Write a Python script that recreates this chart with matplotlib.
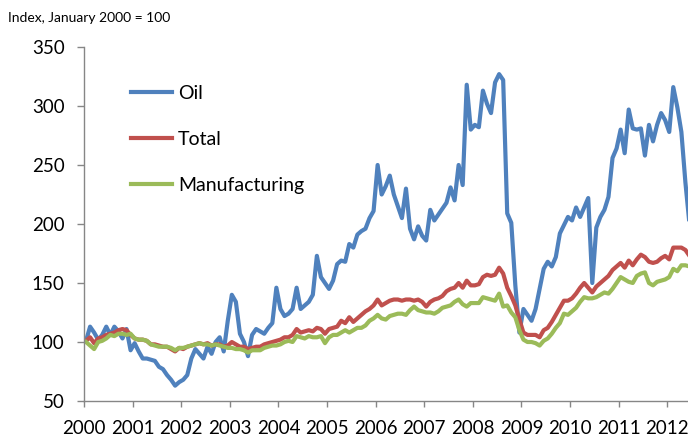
import numpy as np
import matplotlib
matplotlib.use("Agg")
import matplotlib.pyplot as plt

# === Data (monthly index, January 2000 = 100) ===
start_year = 2000

oil = [101, 113, 108, 102, 106, 113, 106, 113, 109, 103, 111, 93,
       99, 92, 86, 86, 85, 84, 79, 77, 72, 68, 63, 66,
       68, 72, 86, 94, 90, 86, 96, 90, 100, 104, 92, 118,
       140, 134, 107, 100, 88, 106, 111, 109, 107, 112, 116, 146,
       128, 122, 124, 128, 146, 128, 131, 134, 140, 173, 155, 150,
       145, 152, 166, 169, 168, 183, 180, 191, 194, 196, 205, 211,
       250, 225, 232, 241, 225, 215, 205, 230, 196, 187, 198, 190,
       186, 212, 203, 208, 213, 218, 231, 220, 250, 233, 318, 280,
       284, 282, 313, 302, 294, 320, 327, 322, 209, 201, 148, 108,
       128, 123, 118, 128, 145, 162, 168, 164, 172, 192, 199, 206,
       203, 214, 206, 214, 222, 150, 197, 206, 212, 223, 256, 264,
       280, 260, 297, 281, 280, 281, 258, 284, 270, 284, 294, 288,
       278, 316, 299, 278, 235, 200]

total = [101, 104, 99, 103, 104, 106, 107, 108, 110, 111, 110, 106,
         103, 102, 102, 101, 98, 98, 97, 96, 96, 94, 92, 95,
         94, 96, 97, 98, 99, 98, 99, 97, 98, 98, 96, 97,
         100, 98, 96, 96, 94, 95, 96, 96, 98, 99, 100, 101,
         102, 104, 104, 106, 111, 108, 109, 110, 109, 112, 111, 107,
         111, 112, 113, 118, 116, 121, 117, 120, 123, 126, 128, 131,
         136, 131, 133, 135, 136, 136, 135, 136, 136, 135, 136, 134,
         130, 134, 136, 137, 139, 143, 145, 146, 150, 146, 152, 148,
         148, 149, 155, 157, 156, 157, 163, 158, 146, 139, 131, 119,
         108, 106, 106, 106, 104, 110, 112, 117, 123, 129, 135, 135,
         137, 141, 146, 150, 146, 142, 147, 150, 153, 156, 161, 164,
         167, 163, 169, 165, 170, 174, 172, 168, 167, 168, 171, 173,
         170, 180, 180, 180, 178, 173]

manufacturing = [100, 97, 94, 100, 101, 103, 106, 105, 107, 107, 106, 107,
                 103, 102, 102, 101, 98, 97, 96, 96, 96, 95, 93, 95,
                 95, 96, 97, 98, 99, 98, 98, 97, 98, 97, 96, 95,
                 95, 94, 94, 93, 91, 93, 93, 93, 95, 96, 97, 97,
                 98, 100, 101, 100, 105, 104, 103, 105, 104, 104, 105, 99,
                 104, 106, 106, 108, 110, 108, 110, 112, 112, 114, 118, 120,
                 123, 120, 119, 122, 123, 124, 124, 123, 127, 130, 127, 126,
                 125, 125, 124, 126, 129, 130, 131, 134, 136, 132, 130, 133,
                 133, 133, 138, 137, 136, 135, 141, 130, 131, 125, 121, 110,
                 102, 100, 100, 99, 97, 101, 103, 107, 112, 116, 124, 123,
                 126, 129, 134, 138, 137, 137, 138, 140, 142, 141, 145, 150,
                 155, 153, 151, 150, 156, 158, 159, 150, 148, 151, 152, 153,
                 155, 162, 160, 165, 165, 164]

labels = ["Oil", "Total", "Manufacturing"]
colors = ["#4F81BD", "#C0504D", "#9BBB59"]
year_ticks = list(range(2000, 2013))
y_ticks = [50, 100, 150, 200, 250, 300, 350]

# months plotted mid-month
months = np.arange(len(oil))
x = start_year + (months + 0.5) / 12.0

plt.rcParams['font.family'] = ['Lato', 'DejaVu Sans']

fig = plt.figure(figsize=(6.88, 4.36), dpi=100)
ax = fig.add_axes([84 / 688, 35 / 436, 604 / 688, 354 / 436])

for series, lab, col in zip([oil, total, manufacturing], labels, colors):
    ax.plot(x, series, color=col, lw=3, label=lab, solid_joinstyle='round')

ax.set_xlim(2000, 2000 + 604 / 48.6)
ax.set_ylim(50, 350)
ax.set_xticks(year_ticks)
ax.set_xticklabels([str(y) for y in year_ticks])
ax.set_yticks(y_ticks)

for s in ["top", "right"]:
    ax.spines[s].set_visible(False)
for s in ["left", "bottom"]:
    ax.spines[s].set_color("#868686")
    ax.spines[s].set_linewidth(1)

ax.tick_params(axis="y", direction="out", length=5, width=1, color="#868686",
               labelsize=13.5, pad=9)
ax.tick_params(axis="x", direction="out", length=4.5, width=1, color="#868686",
               labelsize=13.5, pad=9)

ax.legend(loc="upper left", bbox_to_anchor=(0.078, 0.893), frameon=False,
          fontsize=14, handlelength=2.1, handletextpad=0.3,
          labelspacing=1.5, borderpad=0, borderaxespad=0)

fig.text(8 / 688, 1 - 18 / 436, "Index, January 2000 = 100", fontsize=10,
         va="center", ha="left")

fig.savefig("out.png", dpi=100)
